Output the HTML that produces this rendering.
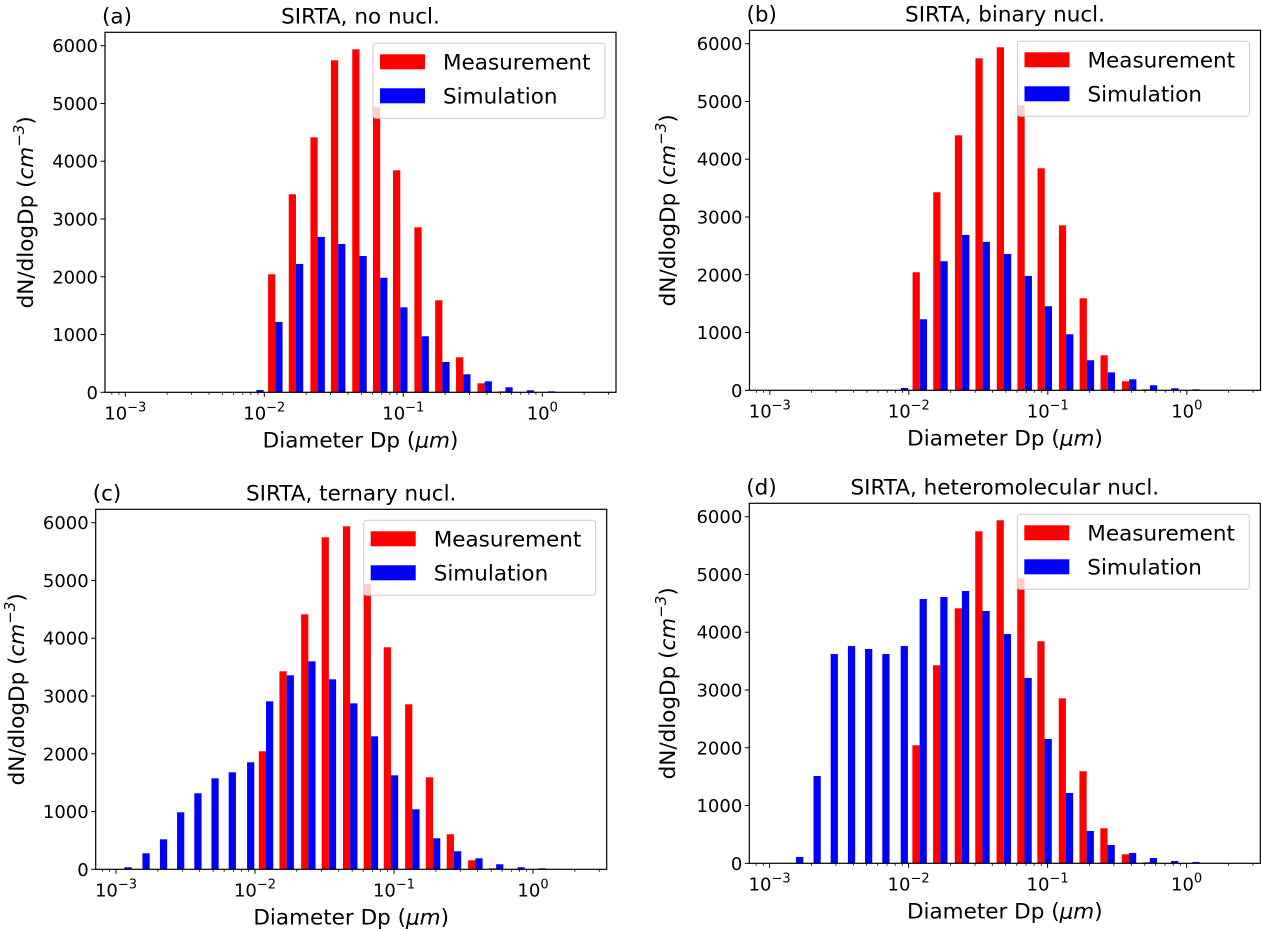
<!DOCTYPE html>
<html><head><meta charset="utf-8"><style>
html,body{margin:0;padding:0;background:#fff;}
svg{display:block;font-family:"DejaVu Sans","Liberation Sans",sans-serif;}
</style></head><body>
<svg id="fig" width="1262" height="931" viewBox="0 0 1262 931" xmlns="http://www.w3.org/2000/svg"></svg>
<script>
// Measurement bin diameters (um) and values (shared by all panels)
const measDiam = [0.0120,0.0169,0.0242,0.0340,0.0484,0.0682,0.0951,0.1355,0.191,0.270,0.385,0.543];
const measVals = [2043,3428,4414,5747,5938,4934,3843,2856,1593,606,156,17];
// Simulation bin diameters (um)
const simDiam = [0.00115,0.00155,0.00207,0.00275,0.00366,0.00486,0.00647,0.00877,0.0120,0.0169,0.0242,0.0340,0.0484,0.0682,0.0951,0.1355,0.191,0.270,0.385,0.543,0.773,1.10];
const simNoNucl = [0,0,0,0,0,0,0,40,1218,2222,2690,2567,2360,1983,1471,970,525,312,190,87,35,17];
const simBinary = [0,0,0,0,0,0,0,40,1230,2234,2690,2570,2360,1980,1455,970,520,310,190,87,35,17];
const simTernary = [35,277,519,987,1316,1575,1679,1852,2908,3358,3600,3289,2873,2302,1627,1039,537,312,190,87,35,17];
const simHetero = [0,110,1512,3623,3762,3710,3623,3762,4576,4610,4714,4368,3970,3208,2152,1218,560,317,179,92,40,23];
const yTicks = [0,1000,2000,3000,4000,5000,6000];
const xTickExps = [-3,-2,-1,0];
const panelTitles = ["SIRTA, no nucl.","SIRTA, binary nucl.","SIRTA, ternary nucl.","SIRTA, heteromolecular nucl."];
const panelLetters = ["(a)","(b)","(c)","(d)"];

const NS = "http://www.w3.org/2000/svg";
const svg = document.getElementById('fig');
function mk(tag, attrs, parent){
  const e = document.createElementNS(NS, tag);
  for (const k in attrs) e.setAttribute(k, attrs[k]);
  (parent||svg).appendChild(e);
  return e;
}
const panels = [
  {left:105, top:32.3, sims:simNoNucl, ylx:25},
  {left:749.5, top:30.3, sims:simBinary, ylx:667},
  {left:95.7, top:509.3, sims:simTernary, ylx:16},
  {left:749.3, top:503.3, sims:simHetero, ylx:667}
];
const W = 511, H = 360, DEC = 139, OFF = 20.3, BW = 0.052;
const PXPER = 346.6/6000;

panels.forEach((p, i) => {
  const g = mk('g', {});
  
  
  const bottom = p.top + H;
  const xs = lg => p.left + OFF + (lg + 3) * DEC;
  const ys = v => bottom - v * PXPER;
  const clipId = 'clip' + i;
  const cp = mk('clipPath', {id: clipId}, g);
  mk('rect', {x:p.left, y:p.top, width:W, height:H}, cp);
  const bars = mk('g', {'clip-path':'url(#'+clipId+')'}, g);
  measDiam.forEach((d, k) => {
    const lg = Math.log10(d);
    const x0 = xs(lg - BW), x1 = xs(lg);
    const r = mk('rect', {x:x0, y:ys(measVals[k]), width:x1-x0, height:measVals[k]*PXPER, fill:'#ff0000'}, bars);
    
    
  });
  simDiam.forEach((d, k) => {
    const lg = Math.log10(d);
    const x0 = xs(lg), x1 = xs(lg + BW);
    const r = mk('rect', {x:x0, y:ys(p.sims[k]), width:x1-x0, height:p.sims[k]*PXPER, fill:'#0000ff'}, bars);
    
    
  });
  // axes frame
  const fr = mk('rect', {x:p.left, y:p.top, width:W, height:H, fill:'none', stroke:'#000', 'stroke-width':1.2}, g);
  
  
  // y ticks
  yTicks.forEach(v => {
    const y = ys(v);
    mk('line', {x1:p.left-4.5, x2:p.left, y1:y, y2:y, stroke:'#000', 'stroke-width':1}, g);
    const t = mk('text', {x:p.left-7, y:y+6.5, 'text-anchor':'end', 'font-size':18, fill:'#000'}, g);
    t.textContent = v;
    
    
  });
  // x ticks major & minor
  for (let e = -4; e <= 0; e++) {
    for (let m = 1; m <= 9; m++) {
      const lg = e + Math.log10(m);
      const x = xs(lg);
      if (x < p.left - 0.5 || x > p.left + W + 0.5) continue;
      const len = m === 1 ? 4.5 : 2.5;
      mk('line', {x1:x, x2:x, y1:bottom, y2:bottom+len, stroke:'#000', 'stroke-width':m===1?1:0.8}, g);
    }
  }
  xTickExps.forEach(e => {
    const x = xs(e);
    const t = mk('text', {x:x, y:bottom+27, 'text-anchor':'middle', 'font-size':18, fill:'#000'}, g);
    
    
    const a = mk('tspan', {}, t); a.textContent = '10';
    const b = mk('tspan', {dy:-8, 'font-size':13}, t); b.textContent = e === 0 ? '0' : '\u2212' + (-e);
  });
  // x label
  const xl = mk('text', {x:p.left + W/2, y:bottom+55, 'text-anchor':'middle', 'font-size':21.5, fill:'#000'}, g);
  
  
  xl.appendChild(document.createTextNode('Diameter Dp ('));
  const it = mk('tspan', {'font-style':'italic'}, xl); it.textContent = 'μm';
  xl.appendChild(document.createTextNode(')'));
  // y label
  const cy = p.top + H/2;
  const yl = mk('text', {x:0, y:0, 'text-anchor':'middle', 'font-size':21.5, fill:'#000', transform:'translate('+(p.ylx+8)+','+cy+') rotate(-90)'}, g);
  
  
  yl.appendChild(document.createTextNode('dN/dlogDp ('));
  const c1 = mk('tspan', {'font-style':'italic'}, yl); c1.textContent = 'cm';
  const c2 = mk('tspan', {'font-style':'italic', dy:-9, 'font-size':15}, yl); c2.textContent = '\u22123';
  const c3 = mk('tspan', {dy:9}, yl); c3.textContent = ')';
  // title
  const ti = mk('text', {x:p.left + W/2, y:p.top-9, 'text-anchor':'middle', 'font-size':21.5, fill:'#000'}, g);
  ti.textContent = panelTitles[i];
  
  
  const pl = mk('text', {x:p.left-3, y:p.top-9, 'font-size':21.5, fill:'#000'}, g);
  pl.textContent = panelLetters[i];
  
  
  // legend
  const lx = p.left + W - 243, ly = p.top + 11;
  const lg = mk('g', {}, g);
  
  
  mk('rect', {x:lx, y:ly, width:232, height:75, rx:3, fill:'#fff', 'fill-opacity':0.8, stroke:'#cccccc', 'stroke-width':1}, lg);
  [['Measurement','#ff0000',0],['Simulation','#0000ff',34]].forEach(([lab,col,dy]) => {
    const e = mk('g', {}, lg);
    
    
    mk('rect', {x:lx+7, y:ly+11+dy, width:45, height:15, fill:col}, e);
    const t = mk('text', {x:lx+70, y:ly+26+dy, 'font-size':21.5, fill:'#000'}, e);
    t.textContent = lab;
  });
});
</script>
</body></html>
